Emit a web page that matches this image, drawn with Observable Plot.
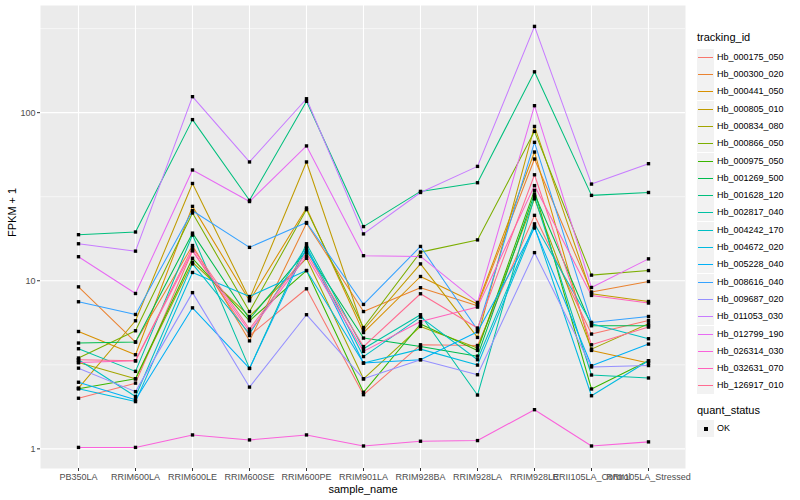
<!DOCTYPE html>
<html>
<head>
<meta charset="utf-8">
<script src="https://cdn.jsdelivr.net/npm/d3@7"></script>
<script src="https://cdn.jsdelivr.net/npm/@observablehq/plot@0.6"></script>
<style>
  body { margin: 0; background: #fff; font-family: "Liberation Sans", Arial, sans-serif; }
  #wrap { display: flex; width: 800px; height: 500px; }
  #chart { width: 690px; height: 500px; }
  #legend { width: 110px; height: 500px; position: relative; color: #000; }
  .lg-title { position: absolute; left: 7px; font-size: 11px; line-height: 13px; white-space: nowrap; }
  .lg-key { position: absolute; left: 7px; width: 17px; height: 17px; background: #F2F2F2; }
  .lg-line { position: absolute; left: 1px; right: 1px; top: 8px; height: 1px; }
  .lg-pt { position: absolute; left: 7px; top: 7px; width: 4px; height: 4px; background: #000; }
  .lg-label { position: absolute; left: 27px; font-size: 9px; line-height: 11px; white-space: nowrap; }
</style>
</head>
<body>
<div id="wrap"><div id="chart"></div><div id="legend"></div></div>
<script>
// x categories
const samples = ["PB350LA","RRIM600LA","RRIM600LE","RRIM600SE","RRIM600PE","RRIM901LA",
  "RRIM928BA","RRIM928LA","RRIM928LE","RRII105LA_Control","RRII105LA_Stressed"];

// series names
const trackingIds = ["Hb_000175_050","Hb_000300_020","Hb_000441_050","Hb_000805_010","Hb_000834_080",
  "Hb_000866_050","Hb_000975_050","Hb_001269_500","Hb_001628_120","Hb_002817_040","Hb_004242_170",
  "Hb_004672_020","Hb_005228_040","Hb_008616_040","Hb_009687_020","Hb_011053_030","Hb_012799_190",
  "Hb_026314_030","Hb_032631_070","Hb_126917_010"];

// FPKM + 1 values, one array per tracking_id (order of samples)
const hb_000175_050 = [2.00, 2.46, 15.1, 4.72, 8.96, 2.10, 4.16, 4.12, 24.5, 4.82, 5.80];
const hb_000300_020 = [9.2, 4.32, 16.2, 4.39, 22.0, 6.56, 9.09, 7.10, 53.0, 8.57, 9.9];
const hb_000441_050 = [4.99, 3.63, 27.7, 7.60, 27.1, 4.92, 10.6, 7.27, 58.3, 3.85, 3.24];
const hb_000805_010 = [2.30, 5.78, 37.9, 7.78, 50.9, 5.11, 12.6, 4.60, 82.8, 8.37, 7.53];
const hb_000834_080 = [3.26, 2.61, 12.9, 6.13, 13.6, 2.61, 5.35, 3.98, 30.7, 3.92, 5.55];
const hb_000866_050 = [3.47, 5.04, 25.3, 6.56, 26.5, 5.27, 14.8, 17.5, 77.4, 10.8, 11.5];
const hb_000975_050 = [2.28, 2.61, 13.6, 5.78, 11.5, 2.17, 5.53, 3.85, 34.5, 2.27, 3.34];
const hb_001269_500 = [4.26, 4.32, 19.2, 5.92, 15.1, 4.56, 4.06, 3.56, 32.8, 5.40, 5.40];
const hb_001628_120 = [18.8, 19.5, 90.9, 30.1, 116.8, 21.0, 34.0, 38.3, 175, 32.2, 33.5];
const hb_002817_040 = [3.94, 2.89, 18.7, 3.01, 16.6, 3.94, 6.28, 2.09, 31.7, 2.75, 2.64];
const hb_004242_170 = [3.39, 2.05, 12.6, 4.84, 16.0, 3.54, 6.08, 3.39, 21.8, 5.55, 4.52];
const hb_004672_020 = [2.28, 1.91, 11.2, 8.06, 11.5, 3.24, 3.92, 3.15, 21.0, 2.07, 3.34];
const hb_005228_040 = [2.49, 1.96, 6.9, 3.01, 15.7, 3.24, 3.39, 4.97, 20.6, 3.12, 4.20];
const hb_008616_040 = [7.5, 6.3, 26.1, 15.8, 22.2, 7.23, 16.0, 5.11, 66.6, 5.65, 6.13];
const hb_009687_020 = [3.02, 2.19, 8.5, 2.33, 6.28, 2.61, 3.39, 2.76, 14.7, 3.07, 3.13];
const hb_011053_030 = [16.6, 15.0, 124.5, 50.9, 121, 19.0, 33.5, 47.9, 326, 37.6, 49.7];
const hb_012799_190 = [13.9, 8.4, 45.6, 29.6, 63.4, 14.1, 13.95, 7.43, 110, 9.12, 13.5];
const hb_026314_030 = [1.02, 1.02, 1.21, 1.13, 1.21, 1.04, 1.11, 1.12, 1.71, 1.04, 1.10];
const hb_032631_070 = [3.26, 3.34, 15.1, 4.99, 14.0, 3.80, 5.72, 6.97, 36.8, 8.18, 7.37];
const hb_126917_010 = [3.39, 3.34, 15.7, 5.16, 14.6, 4.06, 8.37, 5.23, 42.7, 4.16, 5.30];

const seriesValues = [hb_000175_050, hb_000300_020, hb_000441_050, hb_000805_010, hb_000834_080,
  hb_000866_050, hb_000975_050, hb_001269_500, hb_001628_120, hb_002817_040, hb_004242_170,
  hb_004672_020, hb_005228_040, hb_008616_040, hb_009687_020, hb_011053_030, hb_012799_190,
  hb_026314_030, hb_032631_070, hb_126917_010];

// y tick labels
const yTicks = [1, 10, 100];
const yMinor = [3.1623, 31.623, 316.23];

// ggplot2 default hue palette for 20 levels
const hueColors = ["#F8766D","#EA8331","#D89000","#C09B00","#A3A500","#7CAE00","#39B600","#00BB4E",
  "#00BF7D","#00C1A3","#00BFC4","#00BAE0","#00B0F6","#35A2FF","#9590FF","#C77CFF","#E76BF3",
  "#FA62DB","#FF62BC","#FF6C91"];

const rows = [];
seriesValues.forEach((vals, i) => vals.forEach((v, j) =>
  rows.push({tracking_id: trackingIds[i], sample_name: samples[j], fpkm1: v, quant_status: "OK"})));

const font = "Liberation Sans, Arial, sans-serif";

const chart = Plot.plot({
  width: 690, height: 500,
  marginLeft: 40, marginRight: 5, marginTop: 5, marginBottom: 32,
  style: {fontFamily: font, fontSize: "9px", background: "white", overflow: "visible"},
  x: {type: "point", domain: samples, padding: 0.6, label: null},
  y: {type: "log", domain: [0.764, 434], label: null},
  color: {domain: trackingIds, range: hueColors},
  marks: [
    Plot.frame({fill: "#EBEBEB", stroke: "none"}),
    Plot.gridY(yMinor, {stroke: "white", strokeOpacity: 1, strokeWidth: 0.55}),
    Plot.gridY(yTicks, {stroke: "white", strokeOpacity: 1, strokeWidth: 1.1}),
    Plot.gridX(samples, {stroke: "white", strokeOpacity: 1, strokeWidth: 1.1}),
    Plot.axisY(yTicks, {tickSize: 3, tickPadding: 2, stroke: "#333", fill: "#4D4D4D",
      fontSize: 9, tickFormat: d => String(d), label: null}),
    Plot.axisX(samples, {tickSize: 3, tickPadding: 2, stroke: "#333", fill: "#4D4D4D",
      fontSize: 9, label: null}),
    Plot.line(rows, {x: "sample_name", y: "fpkm1", z: "tracking_id", stroke: "tracking_id", strokeWidth: 1.05}),
    Plot.dot(rows, {x: "sample_name", y: "fpkm1", fill: "black", stroke: "none", symbol: "square", r: 1.9}),
    Plot.text(["FPKM + 1"], {frameAnchor: "left", rotate: -90, dx: -28, fontSize: 11, fill: "#000"}),
    Plot.text(["sample_name"], {frameAnchor: "bottom", lineAnchor: "middle", dy: 21, fontSize: 11, fill: "#000"})
  ]
});
document.getElementById("chart").appendChild(chart);

// legend
const lg = document.getElementById("legend");
function add(cls, style, text) {
  const d = document.createElement("div");
  d.className = cls;
  Object.assign(d.style, style);
  if (text !== undefined) d.textContent = text;
  lg.appendChild(d);
  return d;
}
add("lg-title", {top: "31px"}, "tracking_id");
trackingIds.forEach((id, i) => {
  const cy = Math.round(56.7 + i * 17.3);
  const k = add("lg-key", {top: (cy - 8) + "px"});
  const ln = document.createElement("div");
  ln.className = "lg-line";
  ln.style.background = hueColors[i];
  k.appendChild(ln);
  add("lg-label", {top: (cy - 5) + "px"}, id);
});
add("lg-title", {top: "404px"}, "quant_status");
const k2 = add("lg-key", {top: (428 - 8) + "px"});
const pt = document.createElement("div");
pt.className = "lg-pt";
k2.appendChild(pt);
add("lg-label", {top: (428 - 5) + "px"}, "OK");
</script>
</body>
</html>
